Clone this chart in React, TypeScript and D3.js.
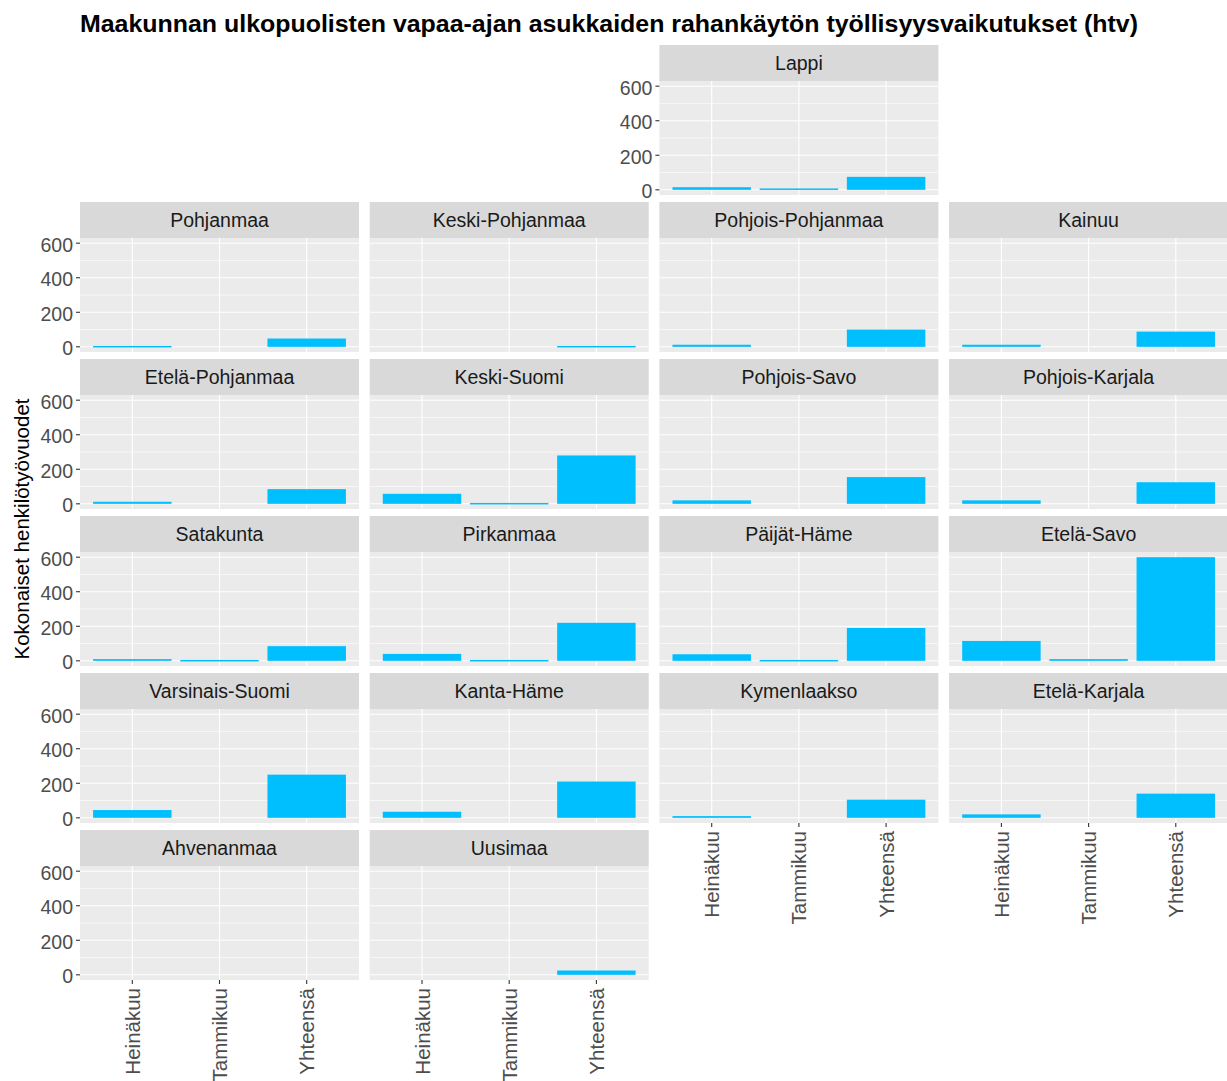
import { useEffect, useRef } from 'react';
import * as d3 from 'd3';

const W = 1227, H = 1081;

const months = ['Heinäkuu', 'Tammikuu', 'Yhteensä'];
const regions = [
  'Lappi',
  'Pohjanmaa', 'Keski-Pohjanmaa', 'Pohjois-Pohjanmaa', 'Kainuu',
  'Etelä-Pohjanmaa', 'Keski-Suomi', 'Pohjois-Savo', 'Pohjois-Karjala',
  'Satakunta', 'Pirkanmaa', 'Päijät-Häme', 'Etelä-Savo',
  'Varsinais-Suomi', 'Kanta-Häme', 'Kymenlaakso', 'Etelä-Karjala',
  'Ahvenanmaa', 'Uusimaa',
];
const heinakuu = [15, 5, 0, 12, 12, 12, 58, 20, 20, 10, 40, 38, 115, 45, 35, 10, 20, 0, 0];
const tammikuu = [8, 0, 0, 0, 0, 0, 5, 0, 0, 5, 5, 5, 10, 0, 0, 0, 0, 0, 0];
const yhteensa = [75, 48, 5, 100, 88, 85, 280, 155, 125, 85, 220, 190, 600, 250, 210, 105, 140, 0, 25];
// geofacet grid (row, col)
const gridRow = [0, 1, 1, 1, 1, 2, 2, 2, 2, 3, 3, 3, 3, 4, 4, 4, 4, 5, 5];
const gridCol = [2, 0, 1, 2, 3, 0, 1, 2, 3, 0, 1, 2, 3, 0, 1, 2, 3, 0, 1];
const yTicks = [0, 200, 400, 600];
const yMinor = [100, 300, 500];

const X0 = 80, COL_STEP = 289.7, PW = 279;
const Y0 = 45, ROW_STEP = 157, STRIP_H = 36, PH = 114;
const FONT = '"Liberation Sans", Arial, sans-serif';

export default function App() {
  const svgRef = useRef(null);

  useEffect(() => {
    const svg = d3.select(svgRef.current);
    svg.selectAll('*').remove();

    svg.append('rect').attr('width', W).attr('height', H).attr('fill', '#fff');

    const x = d3.scalePoint().domain(months).range([0.6 / 3.2 * PW, 2.6 / 3.2 * PW]);
    const unit = PW / 3.2;
    const barW = unit * 0.9;
    const y = d3.scaleLinear().domain([-30, 630]).range([PH, 0]);

    const occupied = new Set(regions.map((_, i) => `${gridRow[i]},${gridCol[i]}`));

    regions.forEach((name, i) => {
      const r = gridRow[i], c = gridCol[i];
      const px = X0 + c * COL_STEP;
      const sy = Y0 + r * ROW_STEP;
      const py = sy + STRIP_H;
      const vals = [heinakuu[i], tammikuu[i], yhteensa[i]];

      // strip
      svg.append('rect').attr('x', px).attr('y', sy).attr('width', PW).attr('height', STRIP_H).attr('fill', '#D9D9D9');
      svg.append('text')
        .attr('x', px + PW / 2).attr('y', sy + STRIP_H / 2 + 7)
        .attr('text-anchor', 'middle').attr('font-family', FONT).attr('font-size', 19.5)
        .attr('fill', '#1A1A1A').text(name);

      const g = svg.append('g').attr('transform', `translate(${px},${py})`);
      g.append('rect').attr('width', PW).attr('height', PH).attr('fill', '#EBEBEB');

      g.selectAll('.minor').data(yMinor).join('line')
        .attr('x1', 0).attr('x2', PW).attr('y1', (d) => y(d)).attr('y2', (d) => y(d))
        .attr('stroke', '#fff').attr('stroke-width', 0.6);
      g.selectAll('.major').data(yTicks).join('line')
        .attr('x1', 0).attr('x2', PW).attr('y1', (d) => y(d)).attr('y2', (d) => y(d))
        .attr('stroke', '#fff').attr('stroke-width', 1.1);
      g.selectAll('.vmajor').data(months).join('line')
        .attr('x1', (d) => x(d)).attr('x2', (d) => x(d)).attr('y1', 0).attr('y2', PH)
        .attr('stroke', '#fff').attr('stroke-width', 1.1);

      g.selectAll('.bar').data(months.map((m, k) => ({ m, v: vals[k] })).filter((d) => d.v > 0)).join('rect')
        .attr('x', (d) => x(d.m) - barW / 2).attr('width', barW)
        .attr('y', (d) => y(d.v)).attr('height', (d) => Math.max(y(0) - y(d.v), 1.5))
        .attr('fill', '#00BFFF');

      // y axis if no panel to the left in the row
      let hasLeft = false;
      for (let cc = 0; cc < c; cc++) if (occupied.has(`${r},${cc}`)) hasLeft = true;
      if (!hasLeft) {
        const ya = g.append('g');
        ya.selectAll('line').data(yTicks).join('line')
          .attr('x1', -4).attr('x2', 0).attr('y1', (d) => y(d)).attr('y2', (d) => y(d))
          .attr('stroke', '#333').attr('stroke-width', 1.1);
        ya.selectAll('text').data(yTicks).join('text')
          .attr('x', -7).attr('y', (d) => y(d) + 8.5)
          .attr('text-anchor', 'end').attr('font-family', FONT).attr('font-size', 19.5)
          .attr('fill', '#4D4D4D').text((d) => d);
      }

      // x axis if no panel below
      if (!occupied.has(`${r + 1},${c}`)) {
        const xa = g.append('g').attr('transform', `translate(0,${PH})`);
        xa.selectAll('line').data(months).join('line')
          .attr('x1', (d) => x(d)).attr('x2', (d) => x(d)).attr('y1', 0).attr('y2', 4)
          .attr('stroke', '#333').attr('stroke-width', 1.1);
        xa.selectAll('text').data(months).join('text')
          .attr('transform', (d) => `translate(${x(d) + 7.5},8) rotate(-90)`)
          .attr('text-anchor', 'end').attr('font-family', FONT).attr('font-size', 20.5)
          .attr('fill', '#4D4D4D').text((d) => d);
      }
    });

    svg.append('text')
      .attr('x', 80).attr('y', 32).attr('font-family', FONT).attr('font-size', 24.5)
      .attr('font-weight', 'bold').attr('fill', '#000')
      .attr('textLength', 1058).attr('lengthAdjust', 'spacingAndGlyphs')
      .text('Maakunnan ulkopuolisten vapaa-ajan asukkaiden rahankäytön työllisyysvaikutukset (htv)');

    svg.append('text')
      .attr('transform', `translate(29,529) rotate(-90)`)
      .attr('text-anchor', 'middle').attr('font-family', FONT).attr('font-size', 20.5)
      .attr('fill', '#000').text('Kokonaiset henkilötyövuodet');
  }, []);

  return (
    <svg ref={svgRef} width={W} height={H} viewBox={`0 0 ${W} ${H}`}
      style={{ position: 'absolute', left: 0, top: 0, display: 'block' }} />
  );
}
